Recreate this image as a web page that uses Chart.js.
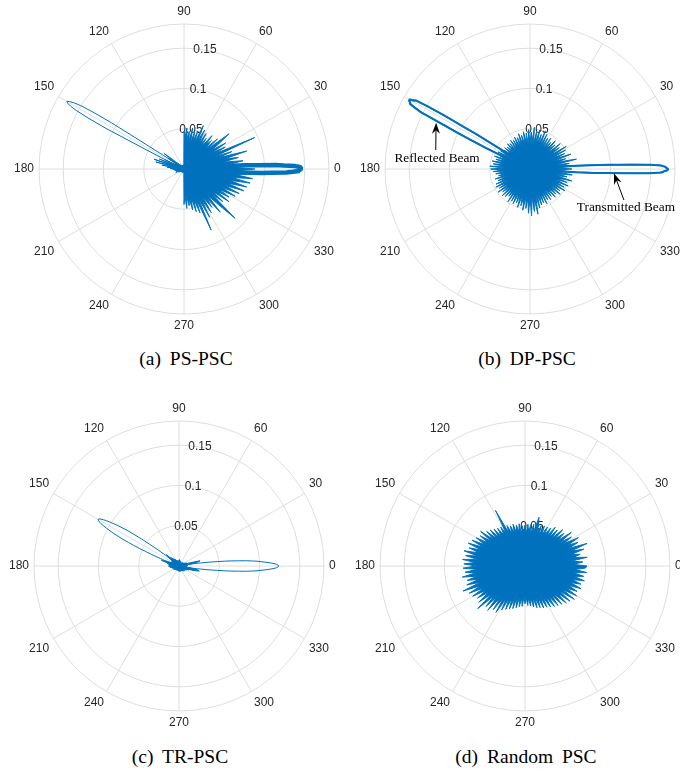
<!DOCTYPE html>
<html>
<head>
<meta charset="utf-8">
<script src="https://cdn.jsdelivr.net/npm/chart.js@4/dist/chart.umd.min.js"></script>
<style>
  html, body { margin: 0; padding: 0; background: #fff; }
  #figure { position: relative; width: 680px; height: 776px; overflow: hidden; }
  #figure canvas { position: absolute; }
  .caption {
    position: absolute;
    transform: translateX(-50%);
    white-space: nowrap;
    font-family: "Liberation Serif", "DejaVu Serif", serif;
    font-size: 19.5px;
    word-spacing: 4px;
    line-height: 22px;
    color: #000;
  }
</style>
</head>
<body>
<div id="figure"></div>
<script>
const BLUE = '#0072bd';
const GRID = '#dedede';
const TEXT = '#262626';

// radar slots every half degree, slot 0 sits at 90 deg (top)
const STEP = 0.5;
const SLOTS = 360 / STEP;
const R_MAX = 0.18;
const RADIUS = 145; // px for R_MAX

const gridValues = [0, 0.05, 0.1, 0.15, 0.18];
const radialLabels = [0.05, 0.1, 0.15];
const radialLabelAngle = 80;
const angleTicks = [0, 30, 60, 90, 120, 150, 180, 210, 240, 270, 300, 330];
const captions = ['(a) PS-PSC', '(b) DP-PSC', '(c) TR-PSC', '(d) Random PSC'];

// background pattern, one value every 2 deg starting at 0 deg
const noiseStep = 2;
const noisePS = [
  0.088, 0.062, 0.079, 0.058, 0.074, 0.049, 0.069, 0.052, 0.081, 0.045, 0.063, 0.041, 0.096, 0.043, 0.058, // 0
  0.039, 0.061, 0.042, 0.053, 0.071, 0.038, 0.056, 0.036, 0.049, 0.040, 0.054, 0.035, 0.047, 0.037, 0.052, // 30
  0.036, 0.055, 0.039, 0.059, 0.035, 0.050, 0.037, 0.048, 0.034, 0.052, 0.036, 0.047, 0.038, 0.051, 0.040, // 60
  0.047, 0.006, 0.003, 0.005, 0.002, 0.004, 0.003, 0.005, 0.002, 0.004, 0.003, 0.005, 0.003, 0.004, 0.002, // 90
  0.004, 0.003, 0.005, 0.004, 0.006, 0.004, 0.008, 0.005, 0.011, 0.006, 0.018, 0.031, 0.010, 0.024, 0.008, // 120
  0.013, 0.007, 0.026, 0.009, 0.033, 0.012, 0.039, 0.014, 0.036, 0.011, 0.028, 0.010, 0.021, 0.008, 0.017, // 150
  0.009, 0.014, 0.007, 0.012, 0.008, 0.011, 0.006, 0.010, 0.006, 0.009, 0.005, 0.011, 0.005, 0.008, 0.004, // 180
  0.007, 0.004, 0.006, 0.003, 0.005, 0.003, 0.005, 0.003, 0.004, 0.003, 0.003, 0.004, 0.003, 0.004, 0.003, // 210
  0.004, 0.003, 0.005, 0.003, 0.004, 0.002, 0.004, 0.003, 0.005, 0.003, 0.004, 0.003, 0.004, 0.005, 0.006, // 240
  0.044, 0.033, 0.049, 0.035, 0.046, 0.038, 0.052, 0.036, 0.055, 0.039, 0.058, 0.041, 0.083, 0.040, 0.068, // 270
  0.043, 0.064, 0.042, 0.059, 0.046, 0.070, 0.044, 0.061, 0.088, 0.047, 0.063, 0.045, 0.069, 0.049, 0.066, // 300
  0.050, 0.072, 0.052, 0.075, 0.054, 0.079, 0.056, 0.081, 0.058, 0.084, 0.060, 0.086, 0.063, 0.088, 0.066  // 330
];
const noiseDP = [
  0.052, 0.034, 0.057, 0.036, 0.049, 0.033, 0.059, 0.035, 0.046, 0.032, 0.054, 0.034, 0.047, 0.031, 0.050,
  0.033, 0.053, 0.031, 0.045, 0.034, 0.049, 0.030, 0.043, 0.033, 0.047, 0.031, 0.042, 0.032, 0.046, 0.030,
  0.044, 0.032, 0.048, 0.031, 0.051, 0.033, 0.045, 0.032, 0.050, 0.034, 0.047, 0.031, 0.052, 0.033, 0.046,
  0.032, 0.049, 0.031, 0.045, 0.033, 0.047, 0.030, 0.043, 0.032, 0.046, 0.031, 0.042, 0.030, 0.044, 0.031,
  0.041, 0.030, 0.043, 0.029, 0.040, 0.031, 0.042, 0.029, 0.039, 0.030, 0.041, 0.029, 0.040, 0.031, 0.043,
  0.030, 0.045, 0.031, 0.042, 0.032, 0.047, 0.031, 0.044, 0.033, 0.048, 0.032, 0.046, 0.034, 0.050, 0.033,
  0.049, 0.034, 0.046, 0.032, 0.043, 0.031, 0.040, 0.032, 0.045, 0.030, 0.042, 0.032, 0.046, 0.031, 0.048,
  0.033, 0.045, 0.032, 0.049, 0.034, 0.044, 0.033, 0.048, 0.032, 0.046, 0.034, 0.043, 0.033, 0.049, 0.032,
  0.046, 0.034, 0.048, 0.033, 0.045, 0.035, 0.050, 0.034, 0.047, 0.036, 0.052, 0.035, 0.049, 0.037, 0.055,
  0.036, 0.058, 0.035, 0.053, 0.037, 0.057, 0.034, 0.050, 0.033, 0.047, 0.034, 0.045, 0.032, 0.048, 0.031,
  0.044, 0.032, 0.046, 0.031, 0.043, 0.033, 0.047, 0.032, 0.045, 0.034, 0.049, 0.033, 0.046, 0.035, 0.051,
  0.034, 0.048, 0.035, 0.052, 0.033, 0.049, 0.036, 0.054, 0.034, 0.047, 0.035, 0.053, 0.034, 0.050, 0.036
];
const noiseTR = [
  0.010, 0.008, 0.011, 0.007, 0.009, 0.018, 0.024, 0.027, 0.015, 0.009, 0.007, 0.010, 0.006, 0.008, 0.005,
  0.007, 0.005, 0.006, 0.004, 0.006, 0.005, 0.004, 0.006, 0.004, 0.005, 0.003, 0.005, 0.004, 0.003, 0.005,
  0.004, 0.003, 0.005, 0.004, 0.003, 0.005, 0.004, 0.006, 0.004, 0.005, 0.007, 0.005, 0.006, 0.008, 0.005,
  0.007, 0.005, 0.006, 0.004, 0.006, 0.005, 0.007, 0.004, 0.006, 0.005, 0.007, 0.006, 0.008, 0.006, 0.009,
  0.007, 0.010, 0.008, 0.011, 0.009, 0.013, 0.010, 0.015, 0.012, 0.021, 0.018, 0.012, 0.009, 0.011, 0.008,
  0.010, 0.008, 0.011, 0.009, 0.014, 0.019, 0.023, 0.017, 0.012, 0.015, 0.011, 0.013, 0.010, 0.012, 0.011,
  0.013, 0.010, 0.012, 0.009, 0.011, 0.008, 0.010, 0.007, 0.009, 0.006, 0.008, 0.006, 0.007, 0.005, 0.007,
  0.006, 0.008, 0.005, 0.007, 0.005, 0.006, 0.004, 0.006, 0.005, 0.004, 0.006, 0.004, 0.005, 0.004, 0.006,
  0.004, 0.005, 0.003, 0.005, 0.004, 0.006, 0.004, 0.005, 0.003, 0.005, 0.004, 0.006, 0.005, 0.004, 0.006,
  0.005, 0.007, 0.005, 0.006, 0.004, 0.006, 0.005, 0.007, 0.005, 0.006, 0.004, 0.006, 0.005, 0.007, 0.006,
  0.005, 0.007, 0.006, 0.008, 0.006, 0.007, 0.005, 0.008, 0.006, 0.009, 0.007, 0.008, 0.006, 0.009, 0.007,
  0.010, 0.008, 0.011, 0.009, 0.013, 0.010, 0.016, 0.021, 0.026, 0.024, 0.017, 0.011, 0.008, 0.010, 0.009
];
const noiseRandom = [
  0.077, 0.060, 0.072, 0.058, 0.078, 0.061, 0.070, 0.059, 0.076, 0.060, 0.082, 0.058, 0.072, 0.059, 0.075,
  0.055, 0.068, 0.053, 0.071, 0.051, 0.063, 0.050, 0.065, 0.048, 0.060, 0.047, 0.061, 0.046, 0.057, 0.045,
  0.056, 0.044, 0.055, 0.043, 0.054, 0.043, 0.055, 0.063, 0.042, 0.053, 0.042, 0.052, 0.042, 0.052, 0.041,
  0.051, 0.042, 0.050, 0.041, 0.053, 0.043, 0.052, 0.042, 0.054, 0.043, 0.053, 0.044, 0.055, 0.045, 0.078,
  0.046, 0.057, 0.046, 0.058, 0.047, 0.060, 0.048, 0.062, 0.049, 0.064, 0.051, 0.070, 0.052, 0.067, 0.054,
  0.070, 0.056, 0.073, 0.057, 0.076, 0.058, 0.073, 0.059, 0.078, 0.060, 0.075, 0.060, 0.078, 0.062, 0.076,
  0.061, 0.077, 0.060, 0.075, 0.062, 0.079, 0.061, 0.074, 0.060, 0.076, 0.059, 0.083, 0.060, 0.077, 0.058,
  0.075, 0.057, 0.071, 0.055, 0.073, 0.054, 0.079, 0.053, 0.070, 0.052, 0.072, 0.050, 0.067, 0.048, 0.068,
  0.046, 0.062, 0.045, 0.059, 0.043, 0.057, 0.042, 0.055, 0.041, 0.053, 0.040, 0.051, 0.040, 0.050, 0.039,
  0.047, 0.039, 0.049, 0.040, 0.050, 0.040, 0.052, 0.041, 0.054, 0.042, 0.055, 0.043, 0.057, 0.044, 0.058,
  0.045, 0.060, 0.047, 0.062, 0.048, 0.064, 0.049, 0.066, 0.050, 0.069, 0.052, 0.071, 0.053, 0.074, 0.055,
  0.074, 0.058, 0.072, 0.059, 0.075, 0.060, 0.073, 0.061, 0.076, 0.062, 0.074, 0.061, 0.077, 0.062, 0.075
];

// beams, one value every half degree from the given start angle
const beamPS150 = [0.007, 0.009, 0.012, 0.016, 0.021, 0.030, 0.051, 0.107, 0.134, 0.151, 0.160, 0.165, 0.168,
  0.166, 0.161, 0.152, 0.135, 0.109, 0.053, 0.031, 0.022, 0.016, 0.012, 0.009, 0.007];
const beamPS0 = [0.011, 0.016, 0.019, 0.029, 0.036, 0.056, 0.071, 0.097, 0.109, 0.127, 0.135, 0.143, 0.143,
  0.146, 0.145, 0.144, 0.138, 0.124, 0.114, 0.091, 0.076, 0.051, 0.040, 0.026, 0.021, 0.014, 0.011];
const beamDP150 = [0.011, 0.018, 0.025, 0.043, 0.056, 0.082, 0.094, 0.125, 0.147, 0.166, 0.167, 0.173, 0.172,
  0.170, 0.170, 0.161, 0.153, 0.119, 0.100, 0.076, 0.061, 0.038, 0.029, 0.014, 0.011];
const beamDP150b = [0.013, 0.016, 0.028, 0.040, 0.060, 0.079, 0.098, 0.121, 0.150, 0.163, 0.169, 0.171, 0.173,
  0.171, 0.168, 0.163, 0.149, 0.123, 0.096, 0.080, 0.057, 0.041, 0.026, 0.016, 0.012];
const beamDP0 = [0.010, 0.017, 0.026, 0.041, 0.057, 0.080, 0.095, 0.123, 0.148, 0.164, 0.166, 0.171, 0.171,
  0.169, 0.168, 0.162, 0.150, 0.121, 0.098, 0.077, 0.059, 0.039, 0.028, 0.015, 0.011];
const beamDP0b = [0.012, 0.015, 0.028, 0.038, 0.060, 0.077, 0.099, 0.119, 0.151, 0.161, 0.168, 0.170, 0.172,
  0.170, 0.166, 0.164, 0.147, 0.125, 0.095, 0.080, 0.056, 0.042, 0.026, 0.017, 0.010];
const beamTR150 = [0.011, 0.014, 0.018, 0.022, 0.025, 0.033, 0.038, 0.045, 0.054, 0.062, 0.069, 0.078, 0.084, 0.091,
  0.096, 0.101, 0.106, 0.110, 0.113, 0.115, 0.116, 0.115, 0.113, 0.110, 0.106, 0.101, 0.096, 0.091, 0.084, 0.078,
  0.069, 0.062, 0.054, 0.045, 0.038, 0.033, 0.025, 0.022, 0.018, 0.014, 0.011];
const beamTR0 = [0.012, 0.015, 0.019, 0.023, 0.027, 0.035, 0.041, 0.048, 0.058, 0.066, 0.074, 0.083, 0.090, 0.097,
  0.102, 0.108, 0.113, 0.118, 0.121, 0.123, 0.124, 0.123, 0.121, 0.118, 0.113, 0.108, 0.102, 0.097, 0.090, 0.083,
  0.074, 0.066, 0.058, 0.048, 0.041, 0.035, 0.027, 0.023, 0.019, 0.015, 0.012];

// arrow notes for the DP-PSC panel, x/y in radial units from the pole
const beamNotes = [
  { text: 'Reflected Beam', tip: [-0.1166, 0.0574], tail: [-0.1170, 0.0236], at: [-0.1154, 0.0136] },
  { text: 'Transmitted Beam', tip: [0.1042, -0.0053], tail: [0.1166, -0.0385], at: [0.1191, -0.0484] }
];

const panels = [
  { cx: 184, cy: 169, capX: 186, capY: 348, noise: noisePS,
    beams: [{ start: 144, values: beamPS150, width: 1 }, { start: -6.5, values: beamPS0, width: 4.5 }] },
  { cx: 530, cy: 169, capX: 527, capY: 348, noise: noiseDP, notes: beamNotes,
    beams: [{ start: 144.5, values: beamDP150, width: 2 }, { start: 144.5, values: beamDP150b, width: 1.5 },
            { start: -6, values: beamDP0, width: 2 }, { start: -6, values: beamDP0b, width: 1.5 }] },
  { cx: 179, cy: 566, capX: 180, capY: 746, noise: noiseTR,
    beams: [{ start: 140, values: beamTR150, width: 1 }, { start: -10, values: beamTR0, width: 1 }] },
  { cx: 525, cy: 566, capX: 526, capY: 746, noise: noiseRandom, beams: [] }
];

function slotOf(theta) {
  return Math.round((((90 - theta) % 360 + 360) % 360) / STEP) % SLOTS;
}

const slotLabels = Array.from({ length: SLOTS }, (_, i) => {
  const a = ((90 - i * STEP) % 360 + 360) % 360;
  return angleTicks.includes(a) ? String(a) : '';
});

function noiseData(values) {
  const data = new Array(SLOTS).fill(null);
  values.forEach((v, k) => { data[slotOf(k * noiseStep)] = v; });
  return data;
}

function beamData(start, values) {
  const data = new Array(SLOTS).fill(null);
  values.forEach((v, k) => { data[slotOf(start + k * STEP)] = v; });
  return data;
}

// r tick labels sit along the 80 deg ray, under the data
const radialLabelPlugin = {
  id: 'radialLabels',
  beforeDatasetsDraw(chart) {
    const scale = chart.scales.r;
    const ctx = chart.ctx;
    ctx.save();
    ctx.font = '12px "Liberation Sans", Arial, sans-serif';
    ctx.fillStyle = TEXT;
    ctx.textAlign = 'center';
    ctx.textBaseline = 'middle';
    radialLabels.forEach(v => {
      const p = scale.getPointPositionForValue(slotOf(radialLabelAngle), v);
      ctx.fillText(String(v), p.x, p.y);
    });
    ctx.restore();
  }
};

function drawArrow(ctx, x0, y0, x1, y1) {
  const a = Math.atan2(y1 - y0, x1 - x0);
  ctx.beginPath();
  ctx.moveTo(x0, y0);
  ctx.lineTo(x1 - 6 * Math.cos(a), y1 - 6 * Math.sin(a));
  ctx.stroke();
  ctx.save();
  ctx.translate(x1, y1);
  ctx.rotate(a);
  ctx.beginPath();
  ctx.moveTo(0, 0);
  ctx.lineTo(-11, -4);
  ctx.lineTo(-7.5, 0);
  ctx.lineTo(-11, 4);
  ctx.closePath();
  ctx.fill();
  ctx.restore();
}

const notePlugin = {
  id: 'beamNotes',
  afterDatasetsDraw(chart) {
    const notes = chart.config.options.beamNotes;
    if (!notes) return;
    const scale = chart.scales.r;
    const k = scale.getDistanceFromCenterForValue(1);
    const px = p => [scale.xCenter + p[0] * k, scale.yCenter - p[1] * k];
    const ctx = chart.ctx;
    ctx.save();
    ctx.strokeStyle = '#000';
    ctx.fillStyle = '#000';
    ctx.lineWidth = 1;
    ctx.font = '13.3px "Liberation Serif", "Times New Roman", serif';
    ctx.textAlign = 'center';
    ctx.textBaseline = 'middle';
    notes.forEach(n => {
      const [tx, ty] = px(n.tail);
      const [hx, hy] = px(n.tip);
      drawArrow(ctx, tx, ty, hx, hy);
      const [lx, ly] = px(n.at);
      ctx.fillText(n.text, lx, ly);
    });
    ctx.restore();
  }
};

function makeChart(parent, size, panel) {
  const canvas = document.createElement('canvas');
  canvas.width = size;
  canvas.height = size;
  parent.appendChild(canvas);

  const datasets = [{
    data: noiseData(panel.noise),
    borderColor: BLUE,
    backgroundColor: BLUE,
    borderWidth: 1,
    fill: true,
    spanGaps: true,
    pointRadius: 0
  }];
  panel.beams.forEach(b => datasets.push({
    data: beamData(b.start, b.values),
    borderColor: BLUE,
    borderWidth: b.width,
    borderJoinStyle: 'bevel',
    fill: false,
    spanGaps: false,
    pointRadius: 0
  }));

  return new Chart(canvas, {
    type: 'radar',
    data: { labels: slotLabels, datasets: datasets },
    plugins: [radialLabelPlugin, notePlugin],
    options: {
      responsive: false,
      animation: false,
      events: [],
      beamNotes: panel.notes,
      plugins: {
        legend: { display: false },
        tooltip: { enabled: false }
      },
      scales: {
        r: {
          min: 0,
          max: R_MAX,
          startAngle: 0,
          afterBuildTicks: scale => {
            scale.ticks = gridValues.map(v => ({ value: v }));
          },
          ticks: { display: false },
          grid: { circular: true, color: GRID, lineWidth: 1 },
          angleLines: {
            color: c => (c.label ? GRID : 'rgba(0,0,0,0)'),
            lineWidth: 1
          },
          pointLabels: {
            color: TEXT,
            padding: 5,
            font: { family: '"Liberation Sans", Arial, sans-serif', size: 12 }
          }
        }
      }
    }
  });
}

// build one polar panel so its pole lands on (cx, cy) with the outer ring at RADIUS
function buildPanel(parent, panel) {
  let size = 340;
  let chart = makeChart(parent, size, panel);
  const drift = RADIUS - chart.scales.r.drawingArea;
  if (Math.abs(drift) > 0.4) {
    const old = chart.canvas;
    chart.destroy();
    old.remove();
    size = Math.round(size + 2 * drift);
    chart = makeChart(parent, size, panel);
  }
  const s = chart.scales.r;
  chart.canvas.style.left = (panel.cx - s.xCenter) + 'px';
  chart.canvas.style.top = (panel.cy - s.yCenter) + 'px';
}

const figure = document.getElementById('figure');
panels.forEach((panel, i) => {
  buildPanel(figure, panel);
  const cap = document.createElement('div');
  cap.className = 'caption';
  cap.textContent = captions[i];
  cap.style.left = panel.capX + 'px';
  cap.style.top = panel.capY + 'px';
  figure.appendChild(cap);
});
</script>
</body>
</html>
